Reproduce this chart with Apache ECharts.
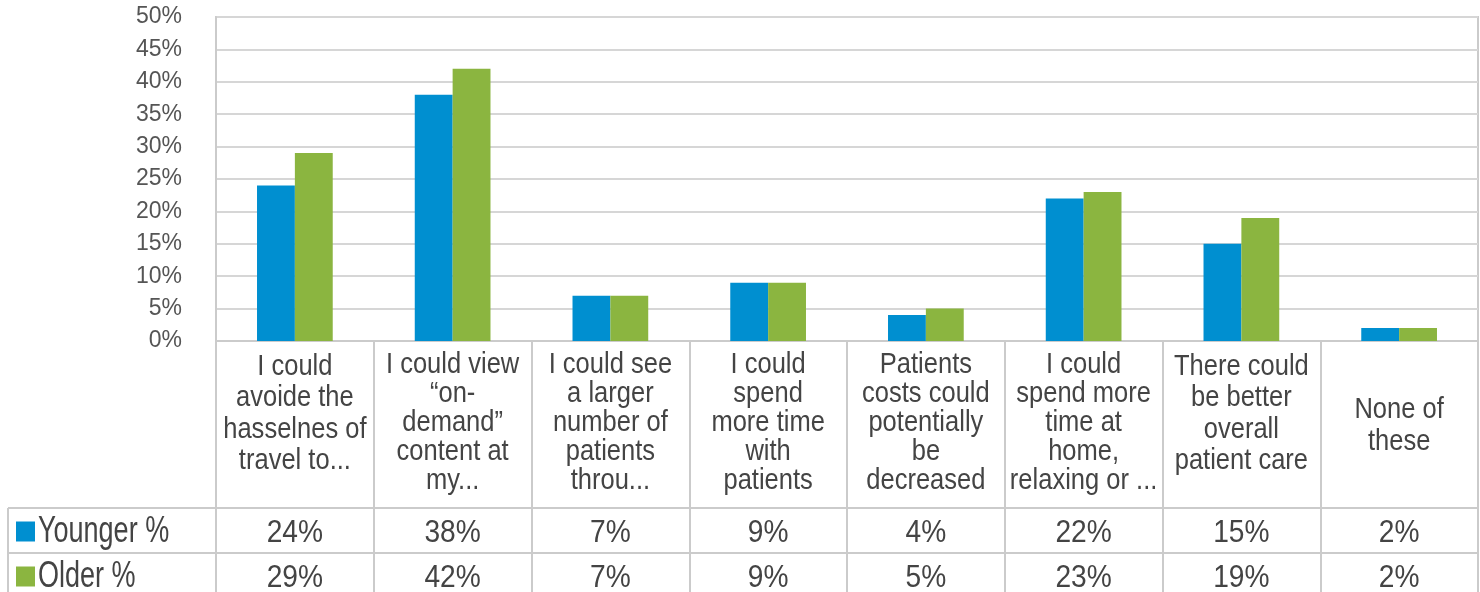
<!DOCTYPE html>
<html>
<head>
<meta charset="utf-8">
<script src="https://cdn.jsdelivr.net/npm/echarts@6/dist/echarts.min.js"></script>
<style>
  html, body { margin: 0; padding: 0; background: #ffffff; }
  #chart { width: 1480px; height: 592px; }
</style>
</head>
<body>
<div id="chart"></div>
<script>
// Answer categories (wrapped the way they appear in the table header row)
var categories = [
  'I could\navoide the\nhasselnes of\ntravel to...',
  'I could view\n\u201con-\ndemand\u201d\ncontent at\nmy...',
  'I could see\na larger\nnumber of\npatients\nthrou...',
  'I could\nspend\nmore time\nwith\npatients',
  'Patients\ncosts could\npotentially\nbe\ndecreased',
  'I could\nspend more\ntime at\nhome,\nrelaxing or ...',
  'There could\nbe better\noverall\npatient care',
  'None of\nthese'
];
var seriesNames = ['Younger %', 'Older %'];
var younger = [24, 38, 7, 9, 4, 22, 15, 2];
var older = [29, 42, 7, 9, 5, 23, 19, 2];
var yTicks = [0, 5, 10, 15, 20, 25, 30, 35, 40, 45, 50];

var BLUE = '#008fd0';
var GREEN = '#8bb540';
var TEXT = '#444444';
var LINE = '#cbcbcb';
var FONT = "'Liberation Sans', Arial, sans-serif";

var chart = echarts.init(document.getElementById('chart'), null, { renderer: 'canvas' });

var GRID = { left: 216, right: 2, top: 17, bottom: 251 };

chart.setOption({
  animation: false,
  backgroundColor: '#ffffff',
  grid: {
    left: GRID.left, right: GRID.right, top: GRID.top, bottom: GRID.bottom,
    show: true, borderColor: LINE, borderWidth: 2, containLabel: false
  },
  xAxis: {
    type: 'category',
    data: categories,
    boundaryGap: true,
    axisLine: { show: true, lineStyle: { color: LINE, width: 2 } },
    // long ticks double as the column dividers of the data table
    axisTick: { show: true, interval: 0, length: 251, lineStyle: { color: LINE, width: 2 } },
    axisLabel: { show: false },
    splitLine: { show: false }
  },
  yAxis: {
    type: 'value',
    min: yTicks[0],
    max: yTicks[yTicks.length - 1],
    interval: yTicks[1] - yTicks[0],
    axisLine: { show: true, lineStyle: { color: LINE, width: 2 } },
    axisTick: { show: false },
    axisLabel: {
      formatter: '{value}%',
      margin: 34,
      color: '#555555',
      fontFamily: FONT,
      fontSize: 23
    },
    splitLine: { show: true, lineStyle: { color: '#d6d6d6', width: 2 } }
  },
  series: [
    {
      name: seriesNames[0], type: 'bar', data: younger,
      barGap: '0%', barCategoryGap: '52%',
      itemStyle: { color: BLUE }
    },
    {
      name: seriesNames[1], type: 'bar', data: older,
      barGap: '0%', barCategoryGap: '52%',
      itemStyle: { color: GREEN }
    }
  ]
});

// Data table: category header row, legend keys, series names and values
var rowTops = [508, 553];
var rowH = 45;
var headerTop = 351;   // long labels hang from the top of the header cell
var headerMid = 426;   // short labels sit in its middle
var graphics = [];
var tableLeft = 8;
var plotRight = 1480 - GRID.right;

function condensedText(x, y, text, size, sx, align, vAlign, lineHeight) {
  var style = {
    text: text, fill: TEXT, font: size + 'px ' + FONT,
    textAlign: align, textVerticalAlign: vAlign
  };
  if (lineHeight) { style.lineHeight = lineHeight; }
  return { type: 'text', x: x, y: y, scaleX: sx, scaleY: 1, style: style, silent: true };
}

categories.forEach(function (c, i) {
  var px = chart.convertToPixel({ xAxisIndex: 0 }, i);
  var lines = c.split('\n').length;
  if (lines > 2) {
    // five-line labels are set a little tighter to fit the header cell
    var lh = lines >= 5 ? 28.8 : 31.5;
    graphics.push(condensedText(px, headerTop, c, 29, 0.88, 'center', 'top', lh));
  } else {
    graphics.push(condensedText(px, headerMid, c, 29, 0.88, 'center', 'middle', 31.5));
  }
});

rowTops.forEach(function (y) {
  graphics.push({
    type: 'line', shape: { x1: tableLeft, y1: y, x2: plotRight, y2: y },
    style: { stroke: LINE, lineWidth: 2 }, silent: true
  });
});
graphics.push({
  type: 'line', shape: { x1: tableLeft, y1: rowTops[0], x2: tableLeft, y2: 592 },
  style: { stroke: LINE, lineWidth: 2 }, silent: true
});

var rows = [younger, older];
var colors = [BLUE, GREEN];
rows.forEach(function (vals, r) {
  var cy = rowTops[r] + rowH / 2;
  graphics.push({
    type: 'rect', shape: { x: 16, y: cy - 9, width: 19, height: 20 },
    style: { fill: colors[r] }, silent: true
  });
  graphics.push(condensedText(38, cy + 1, seriesNames[r], 37, 0.73, 'left', 'middle'));
  vals.forEach(function (v, i) {
    var px = chart.convertToPixel({ xAxisIndex: 0 }, i);
    graphics.push(condensedText(px, cy + 3, v + '%', 32, 0.88, 'center', 'middle'));
  });
});

chart.setOption({ graphic: graphics });
</script>
</body>
</html>
